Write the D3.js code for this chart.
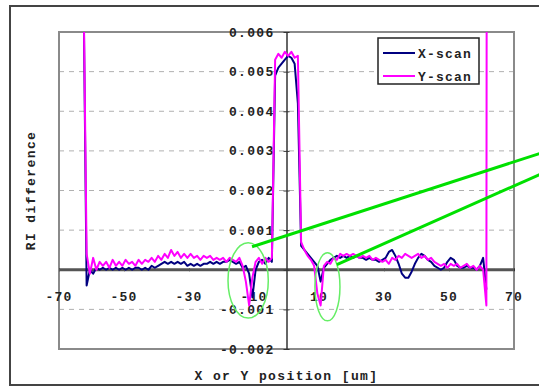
<!DOCTYPE html>
<html>
<head>
<meta charset="utf-8">
<script src="https://cdn.jsdelivr.net/npm/d3@7"></script>
<style>
	html, body { margin: 0; padding: 0; background: #fff; }
	svg { display: block; }
	text { font-family: "Liberation Mono", "DejaVu Sans Mono", monospace; font-weight: bold; fill: #222; }
</style>
</head>
<body>
<svg id="chart" width="539" height="387"></svg>
<script>
'use strict';

// scan positions [um]
const positions = [
	-62.5, -61.5, -60.5, -59.5, -58.5, -57.5, -56.5, -55.5, -54.5, -53.5,
	-52.5, -51.5, -50.5, -49.5, -48.5, -47.5, -46.5, -45.5, -44.5, -43.5,
	-42.5, -41.5, -40.5, -39.5, -38.5, -37.5, -36.5, -35.5, -34.5, -33.5,
	-32.5, -31.5, -30.5, -29.5, -28.5, -27.5, -26.5, -25.5, -24.5, -23.5,
	-22.5, -21.5, -20.5, -19.5, -18.5, -17.5, -16.5, -15.5, -14.5, -13.5,
	-12.5, -11.5, -10.5, -9.5, -8.5, -7.5, -6.5, -5.5, -4.5, -3.5,
	-2.5, -1.5, -0.5, 0.5, 1.5, 2.5, 3.5, 4.5, 5.5, 6.5,
	7.5, 8.5, 9.5, 10.5, 11.5, 12.5, 13.5, 14.5, 15.5, 16.5,
	17.5, 18.5, 19.5, 20.5, 21.5, 22.5, 23.5, 24.5, 25.5, 26.5,
	27.5, 28.5, 29.5, 30.5, 31.5, 32.5, 33.5, 34.5, 35.5, 36.5,
	37.5, 38.5, 39.5, 40.5, 41.5, 42.5, 43.5, 44.5, 45.5, 46.5,
	47.5, 48.5, 49.5, 50.5, 51.5, 52.5, 53.5, 54.5, 55.5, 56.5,
	57.5, 58.5, 59.5, 60.5, 61.5, 61.6
];

// RI difference, in units of 1e-4
const xScan = [
	75, -4, 0, -1, 0.5, 0, 0.5, 0, 0.5, 0,
	0.5, 0, 0.5, 0, 0.5, 0, 0.5, 0.5, 0, 0.5,
	0, 1, 0.5, 1, 1.5, 2, 1.5, 2, 1.5, 2,
	1.5, 2, 1, 1.5, 1, 1.5, 1, 1.5, 1.5, 2,
	1.5, 2, 1.5, 2, 2, 2.5, 2, 1.5, 2, 0.5,
	1, -1, -7, 0, 2, 2.5, 1.5, 3, 2, 49,
	51, 52, 53, 54, 53.5, 52, 42, 6, 5, 4,
	3, 2, 1, -3, 0.5, 1.5, 2.5, 3, 3.5, 3,
	3.5, 3, 3.5, 3, 3.5, 3, 3, 2.5, 3, 2.5,
	2.5, 2, 2.5, 3, 4.5, 5, 3.5, 1.5, -1, -2,
	-2, -0.5, 1.5, 3, 4, 3.5, 2.5, 2, 1, 0.5,
	0, 0.5, 2, 3, 2.5, 1, 0.5, 0.5, 1, 0.5,
	0.5, 0, 1, 3, -5, null
];

const yScan = [
	75, 4, -1, 3, 0, 2, 1, 2, 0.5, 2.5,
	1, 2, 1, 2.5, 1.5, 2, 1, 2.5, 1.5, 2.5,
	2, 3, 2, 3.5, 2.5, 4, 3, 5, 3.5, 4.5,
	3, 4, 3, 4, 3, 3.5, 2.5, 3.5, 3, 3.5,
	2.5, 3, 2.5, 3, 2, 3, 2.5, 2, 3, 1,
	-3, -9, -2, 2, 3, 1.5, 3, 2, 3, 53,
	54.5, 53.5, 55, 54, 55, 53.5, 54, 7, 5, 3.5,
	2.5, 1, -6, -9, 1, 2, 1.5, 3, 2.5, 4,
	3.5, 4, 3.5, 4, 3.5, 3, 3.5, 3, 3.5, 2.5,
	3, 2.5, 2, 2.5, 1.5, 3, 2.5, 3.5, 3, 4,
	3.5, 3, 3.5, 4, 3, 3.5, 2.5, 3, 2, 1.5,
	1, 1.5, 0.5, 1.5, 1, 1.5, 0.5, 1, 1.5, 0.5,
	1, 0, 1, 0, -9, 75
];

const seriesNames = ['X-scan', 'Y-scan'];
const seriesColors = ['#000080', '#ff00ff'];

const xTicks = [-70, -50, -30, -10, 10, 30, 50, 70];
const xTickLabels = ['-70', '-50', '-30', '-10', '10', '30', '50', '70'];
const yTicks = [-20, -10, 10, 20, 30, 40, 50, 60];
const yTickLabels = ['-0.002', '-0.001', '0.001', '0.002', '0.003', '0.004', '0.005', '0.006'];
const yGrid = [-10, 10, 20, 30, 40, 50];

// callouts: ellipse [cx, cy, rx, ry] and leader [x1, y1, x2, y2], data units
const calloutEllipses = [[-11.8, -2.7, 6.2, 9.5], [12.6, -4.3, 3.85, 8.6]];
const calloutLeaders = [[-10.6, 5.8, 80, 29.9], [15.5, 1.3, 80, 24.8]];

const svg = d3.select('#chart');
const plot = {left: 59, top: 32, right: 514, bottom: 349};

const x = d3.scaleLinear().domain([-70, 70]).range([plot.left, plot.right]);
const y = d3.scaleLinear().domain([-20, 60]).range([plot.bottom, plot.top]);

// chart frame
svg.append('rect')
	.attr('x', 10).attr('y', 6)
	.attr('width', 545).attr('height', 379)
	.attr('fill', '#fff')
	.attr('stroke', '#444')
	.attr('stroke-width', 2);

// gridlines
svg.append('g').selectAll('line').data(yGrid).join('line')
	.attr('x1', plot.left).attr('x2', plot.right)
	.attr('y1', d => y(d)).attr('y2', d => y(d))
	.attr('stroke', '#b0b0b0')
	.attr('stroke-width', 1)
	.attr('stroke-dasharray', '5,5');

// plot area border
svg.append('rect')
	.attr('x', plot.left).attr('y', plot.top)
	.attr('width', plot.right - plot.left)
	.attr('height', plot.bottom - plot.top)
	.attr('fill', 'none')
	.attr('stroke', '#8a8a8a')
	.attr('stroke-width', 2);

// axes crossing at zero
const xAxis = d3.axisBottom(x).tickValues(xTicks).tickSize(3).tickFormat('');
svg.append('g')
	.attr('transform', `translate(0,${y(0) - 1.5})`)
	.call(xAxis)
	.call(g => g.select('.domain').remove())
	.call(g => g.selectAll('.tick line').attr('stroke', '#333'));

svg.append('line')
	.attr('x1', plot.left).attr('x2', plot.right)
	.attr('y1', y(0)).attr('y2', y(0))
	.attr('stroke', '#555')
	.attr('stroke-width', 3);

const yAxis = d3.axisLeft(y).tickValues(yTicks.concat([0])).tickSizeInner(-3).tickSizeOuter(0).tickFormat('');
svg.append('g')
	.attr('transform', `translate(${x(0)},0)`)
	.call(yAxis)
	.call(g => g.select('.domain').attr('stroke', '#333').attr('stroke-width', 1.5))
	.call(g => g.selectAll('.tick line').attr('stroke', '#333').attr('x1', -3).attr('x2', 3));

// tick labels
svg.append('g').selectAll('text').data(xTicks).join('text')
	.attr('x', d => x(d))
	.attr('y', y(0) + 31)
	.attr('text-anchor', 'middle')
	.attr('font-size', 13)
	.attr('letter-spacing', 1.2)
	.text((d, i) => xTickLabels[i]);

svg.append('g').selectAll('text').data(yTicks).join('text')
	.attr('x', x(0) - 12)
	.attr('y', d => y(d) + 4.5)
	.attr('text-anchor', 'end')
	.attr('font-size', 13)
	.attr('letter-spacing', 1.3)
	.text((d, i) => yTickLabels[i]);

// axis titles
svg.append('text')
	.attr('x', (plot.left + plot.right) / 2)
	.attr('y', 380)
	.attr('text-anchor', 'middle')
	.attr('font-size', 13)
	.attr('letter-spacing', 1.4)
	.text('X or Y position [um]');

svg.append('text')
	.attr('transform', `translate(35,${(plot.top + plot.bottom) / 2}) rotate(-90)`)
	.attr('text-anchor', 'middle')
	.attr('font-size', 13)
	.attr('letter-spacing', 1.4)
	.text('RI difference');

// data lines
svg.append('clipPath').attr('id', 'plot-clip')
	.append('rect')
	.attr('x', plot.left).attr('y', plot.top)
	.attr('width', plot.right - plot.left)
	.attr('height', plot.bottom - plot.top);

const line = d3.line()
	.defined(d => d[1] !== null)
	.x(d => x(d[0]))
	.y(d => y(d[1]));

const series = [xScan, yScan].map(vals => positions.map((p, i) => [p, vals[i]]));

svg.append('g')
	.attr('clip-path', 'url(#plot-clip)')
	.selectAll('path').data(series).join('path')
	.attr('d', line)
	.attr('fill', 'none')
	.attr('stroke', (d, i) => seriesColors[i])
	.attr('stroke-width', 2)
	.attr('stroke-linejoin', 'round');

// legend
const legend = svg.append('g').attr('transform', 'translate(378,38)');
legend.append('rect')
	.attr('width', 101).attr('height', 46)
	.attr('fill', '#fff')
	.attr('stroke', '#222')
	.attr('stroke-width', 1.5);
const entry = legend.selectAll('g').data(seriesNames).join('g')
	.attr('transform', (d, i) => `translate(0,${15 + i * 23})`);
entry.append('line')
	.attr('x1', 5).attr('x2', 37)
	.attr('stroke', (d, i) => seriesColors[i])
	.attr('stroke-width', 2);
entry.append('text')
	.attr('x', 40).attr('y', 4.5)
	.attr('font-size', 13)
	.attr('letter-spacing', 1.2)
	.text(d => d);

// green callouts
const callouts = svg.append('g');
callouts.selectAll('ellipse').data(calloutEllipses).join('ellipse')
	.attr('cx', d => x(d[0]))
	.attr('cy', d => y(d[1]))
	.attr('rx', d => x(d[2]) - x(0))
	.attr('ry', d => y(0) - y(d[3]))
	.attr('fill', 'none')
	.attr('stroke', '#66ee66')
	.attr('stroke-width', 1.5);
callouts.selectAll('line').data(calloutLeaders).join('line')
	.attr('x1', d => x(d[0])).attr('y1', d => y(d[1]))
	.attr('x2', d => x(d[2])).attr('y2', d => y(d[3]))
	.attr('stroke', '#00e000')
	.attr('stroke-width', 3);
</script>
</body>
</html>
